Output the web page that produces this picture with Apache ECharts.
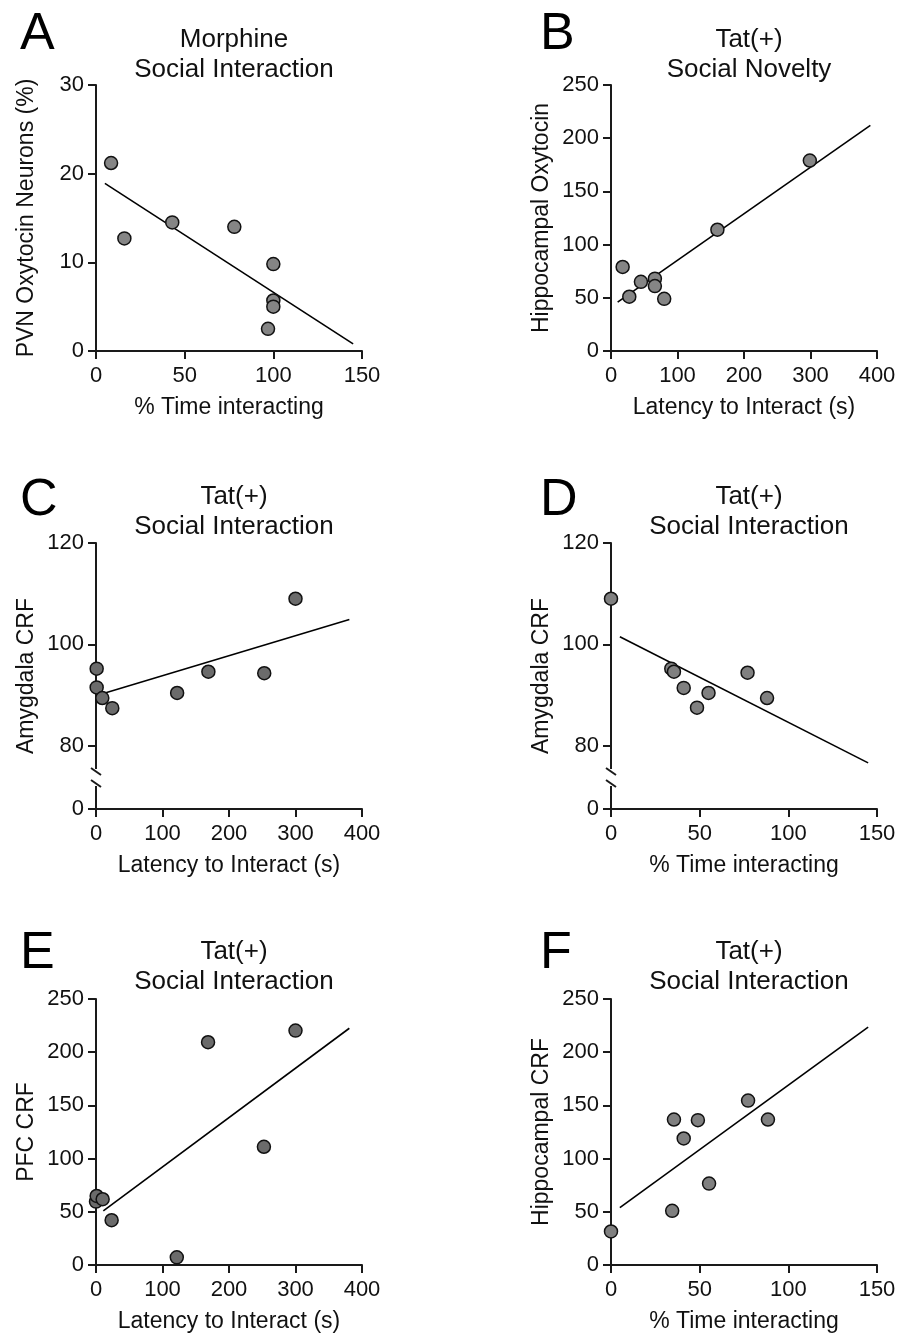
<!DOCTYPE html>
<html>
<head>
<meta charset="utf-8">
<script src="https://cdn.jsdelivr.net/npm/echarts@6/dist/echarts.min.js"></script>
<style>
  html, body { margin: 0; padding: 0; background: #fff; }
  #main { width: 901px; height: 1336px; }
</style>
</head>
<body>
<div id="main"></div>
<script>
// panel A - Morphine, social interaction
var aX = [8.5, 16, 43, 78, 100, 100, 100, 97];
var aY = [21.2, 12.7, 14.5, 14.0, 9.8, 5.7, 5.0, 2.5];
var aFit = [[5, 18.9], [145, 0.8]];
// panel B - Tat(+), social novelty
var bX = [17.5, 27.5, 45, 66, 66, 80, 160, 299];
var bY = [79, 51, 65, 68, 61, 49, 114, 179];
var bFit = [[10, 46], [390, 212]];
// panel C
var cX = [1, 1, 9.5, 24.5, 122, 169, 253, 300];
var cY = [95.2, 91.5, 89.4, 87.4, 90.4, 94.6, 94.3, 109];
var cFit = [[3.5, 90.0], [381, 104.9]];
// panel D
var dX = [0, 34, 35.5, 41, 55, 48.5, 77, 88];
var dY = [109, 95.2, 94.6, 91.4, 90.4, 87.5, 94.4, 89.4];
var dFit = [[5, 101.5], [145, 76.6]];
// panel E
var eX = [0, 1, 10, 23.5, 121.5, 168.5, 252.5, 300];
var eY = [59.6, 64.9, 61.8, 42.1, 7.2, 209.4, 111.1, 220.3];
var eFit = [[11, 50.9], [381, 222.5]];
// panel F
var fX = [0, 34.5, 35.5, 41, 49, 55.3, 77.3, 88.5];
var fY = [31.5, 50.9, 136.7, 118.9, 136.1, 76.5, 154.5, 136.7];
var fFit = [[5, 54], [145, 223.5]];

// tick labels
var ticksPct = [0, 50, 100, 150];
var ticksLat = [0, 100, 200, 300, 400];
var ticksA = [0, 10, 20, 30];
var ticks250 = [0, 50, 100, 150, 200, 250];
var ticksBreak = [67.5, 80, 100, 120]; // 67.5 is shown as "0" below the axis break

var FONT = '"Liberation Sans", Arial, Helvetica, sans-serif';
var INK = '#111';

var myChart = echarts.init(document.getElementById('main'));

var panels = [
  { letter: 'A', title: 'Morphine\nSocial Interaction', xName: '% Time interacting', yName: 'PVN Oxytocin Neurons (%)',
    x: aX, y: aY, fit: aFit, xMax: 150, xTicks: ticksPct, yMin: 0, yMax: 30, yTicks: ticksA, fill: '#858585' },
  { letter: 'B', title: 'Tat(+)\nSocial Novelty', xName: 'Latency to Interact (s)', yName: 'Hippocampal Oxytocin',
    x: bX, y: bY, fit: bFit, xMax: 400, xTicks: ticksLat, yMin: 0, yMax: 250, yTicks: ticks250, fill: '#858585' },
  { letter: 'C', title: 'Tat(+)\nSocial Interaction', xName: 'Latency to Interact (s)', yName: 'Amygdala CRF',
    x: cX, y: cY, fit: cFit, xMax: 400, xTicks: ticksLat, yMin: 67.5, yMax: 120, yTicks: ticksBreak, fill: '#6b6b6b' },
  { letter: 'D', title: 'Tat(+)\nSocial Interaction', xName: '% Time interacting', yName: 'Amygdala CRF',
    x: dX, y: dY, fit: dFit, xMax: 150, xTicks: ticksPct, yMin: 67.5, yMax: 120, yTicks: ticksBreak, fill: '#808080' },
  { letter: 'E', title: 'Tat(+)\nSocial Interaction', xName: 'Latency to Interact (s)', yName: 'PFC CRF',
    x: eX, y: eY, fit: eFit, xMax: 400, xTicks: ticksLat, yMin: 0, yMax: 250, yTicks: ticks250, fill: '#6b6b6b' },
  { letter: 'F', title: 'Tat(+)\nSocial Interaction', xName: '% Time interacting', yName: 'Hippocampal CRF',
    x: fX, y: fY, fit: fFit, xMax: 150, xTicks: ticksPct, yMin: 0, yMax: 250, yTicks: ticks250, fill: '#808080' }
];

var colLeft = [96, 611];
var rowTop = [85, 543, 999];
var titleTop = [20, 477, 932];
var letterTop = [4, 470, 923];
var W = 266, H = 266;

var grids = [], xAxes = [], yAxes = [], series = [], titles = [];

panels.forEach(function (p, i) {
  var col = i % 2, row = Math.floor(i / 2);
  var left = colLeft[col], top = rowTop[row];
  grids.push({ left: left, top: top, width: W, height: H });

  titles.push({
    text: p.title, left: left + W / 2, top: titleTop[row], textAlign: 'center',
    textStyle: { fontFamily: FONT, fontSize: 26, fontWeight: 'normal', color: INK, lineHeight: 30 }
  });
  titles.push({
    text: p.letter, left: col === 0 ? 15 : 535, top: letterTop[row],
    textStyle: { fontFamily: FONT, fontSize: 52, fontWeight: 'normal', color: '#000' }
  });

  var axisCommon = {
    type: 'value',
    gridIndex: i,
    nameLocation: 'middle',
    nameTextStyle: { fontFamily: FONT, fontSize: 23, color: INK },
    axisLine: { show: true, onZero: false, lineStyle: { color: '#1a1a1a', width: 2 } },
    axisTick: { show: true, length: 8, lineStyle: { color: '#1a1a1a', width: 2 } },
    splitLine: { show: false },
    minorTick: { show: false }
  };

  xAxes.push(Object.assign({}, axisCommon, {
    min: 0, max: p.xMax,
    name: p.xName, nameGap: 45,
    axisTick: Object.assign({}, axisCommon.axisTick, { customValues: p.xTicks }),
    axisLabel: { customValues: p.xTicks, fontFamily: FONT, fontSize: 22, color: INK, margin: 14 }
  }));

  yAxes.push(Object.assign({}, axisCommon, {
    min: p.yMin, max: p.yMax,
    name: p.yName, nameGap: 58,
    axisTick: Object.assign({}, axisCommon.axisTick, { customValues: p.yTicks }),
    axisLabel: {
      customValues: p.yTicks, fontFamily: FONT, fontSize: 22, color: INK, margin: 12,
      formatter: function (v) { return v === 67.5 ? '0' : String(v); }
    }
  }));

  series.push({
    type: 'line',
    xAxisIndex: i, yAxisIndex: i,
    data: p.fit,
    showSymbol: false, symbol: 'none',
    lineStyle: { color: '#000', width: 1.6 },
    silent: true, z: 2
  });
  series.push({
    type: 'scatter',
    xAxisIndex: i, yAxisIndex: i,
    data: p.x.map(function (v, k) { return [v, p.y[k]]; }),
    symbolSize: 13,
    clip: false,
    itemStyle: { color: p.fill, borderColor: '#111', borderWidth: 1.5, opacity: 1 },
    z: 3
  });
});

// axis-break marks on the y axes of C and D
function breakMark(x) {
  return [
    { type: 'rect', shape: { x: x - 5, y: 769, width: 10, height: 17 }, style: { fill: '#fff' }, z: 100 },
    { type: 'line', shape: { x1: x - 5, y1: 768, x2: x + 5, y2: 775 }, style: { stroke: '#1a1a1a', lineWidth: 2 }, z: 101 },
    { type: 'line', shape: { x1: x - 5, y1: 780, x2: x + 5, y2: 787 }, style: { stroke: '#1a1a1a', lineWidth: 2 }, z: 101 }
  ];
}

var option = {
  backgroundColor: '#fff',
  animation: false,
  title: titles,
  grid: grids,
  xAxis: xAxes,
  yAxis: yAxes,
  series: series,
  graphic: breakMark(colLeft[0]).concat(breakMark(colLeft[1]))
};

myChart.setOption(option);
</script>
</body>
</html>
